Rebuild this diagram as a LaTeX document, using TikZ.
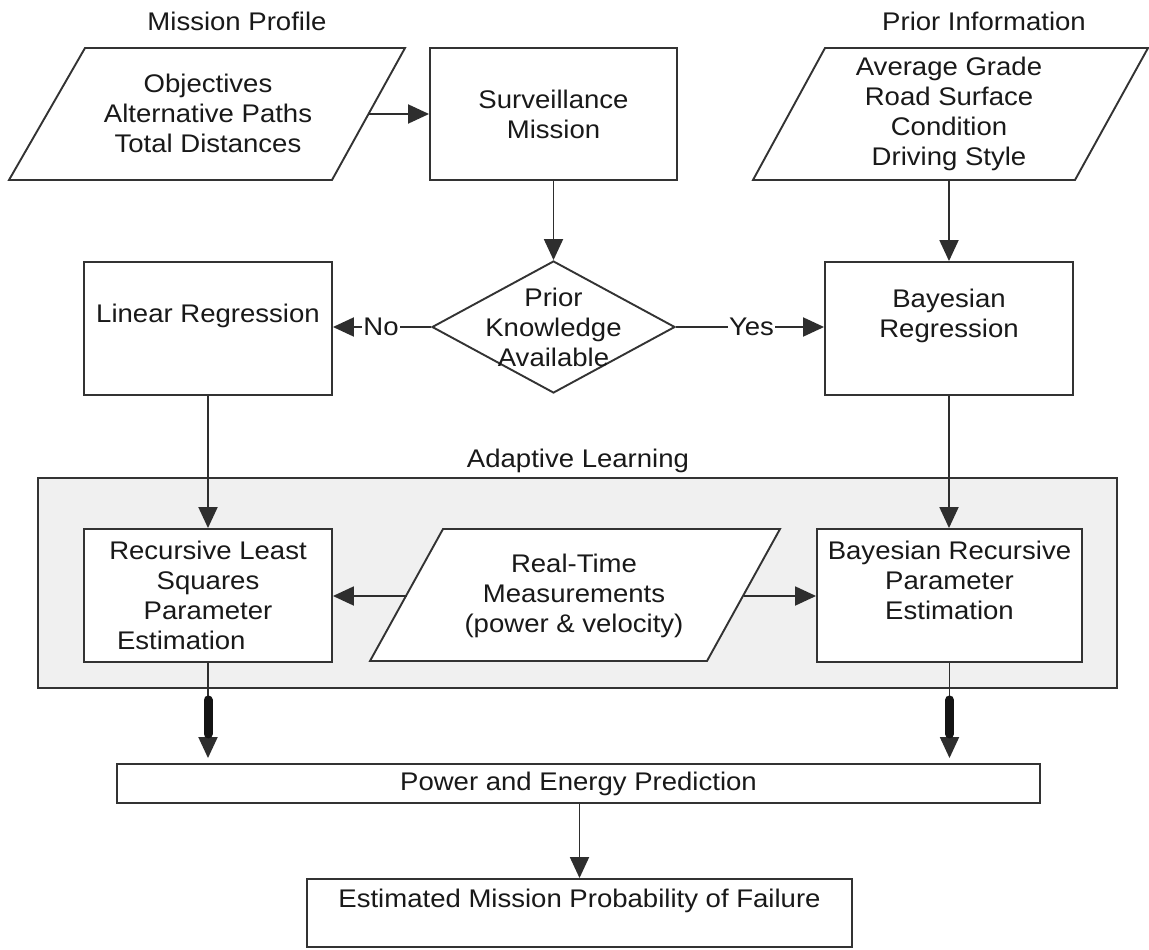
\documentclass[tikz,border=0pt]{standalone}
\usepackage{fontspec}
\setmainfont{Liberation Sans}[FakeStretch=1.08]
\usetikzlibrary{arrows.meta,shapes.geometric,calc}

\begin{document}
\begin{tikzpicture}[x=1pt,y=-1pt,
  every node/.style={font=\fontsize{25.5}{30}\selectfont, text=black!90},
  box/.style={rectangle, draw=black!80, line width=1.9pt, fill=white, inner sep=0pt, align=center},
  txt/.style={inner sep=0pt, align=center},
  para/.style={draw=black!80, line width=1.9pt, fill=white, line join=miter},
  conn/.style={draw=black!82, line width=1.9pt, -{Triangle[length=21pt,width=19pt]}},
  thickseg/.style={draw=black!92, line width=9pt, line cap=round},
  tag/.style={fill=white, inner sep=1.5pt}
]
% canvas
\fill[white] (0,0) rectangle (1149,950);
\useasboundingbox (0,0) rectangle (1149,950);

% ---------- top row ----------
\node[txt] (mplabel) at (237,21) {Mission Profile};
\node[txt] (pilabel) at (984,21) {Prior Information};

% mission profile input
\draw[para] (85,48) -- (405,48) -- (332,180) -- (9,180) -- cycle;
\node[txt] (obj) at (208,113) {Objectives\\Alternative Paths\\Total Distances};
\coordinate (obj-e) at (368.5,114);

\node[box, minimum width=247pt, minimum height=132pt] (surv) at (553.5,114)
  {Surveillance\\Mission};

% prior information input
\draw[para] (825,48) -- (1148,48) -- (1075,180) -- (753,180) -- cycle;
\node[txt] (prior) at (949,114) {Average Grade\\Road Surface\\Condition\\Driving Style};
\coordinate (pri-s) at (949,180);

% ---------- decision row ----------
\node[box, minimum width=248pt, minimum height=133pt] (linreg) at (208,328.5)
  {Linear Regression\\~};
\node[diamond, draw=black!80, line width=1.9pt, fill=white, inner sep=0pt,
      minimum width=243pt, minimum height=132pt] (dec) at (553.5,327) {};
\node[txt] (dectext) at (553.5,327) {Prior\\Knowledge\\Available};
\node[box, minimum width=248pt, minimum height=133pt] (bayreg) at (949,328.5)
  {Bayesian\\Regression\\~};

% ---------- adaptive learning block ----------
\node[txt] (adlabel) at (578,461) {Adaptive Learning};
\node[rectangle, draw=black!80, line width=1.9pt, fill=black!6, inner sep=0pt,
      minimum width=1079pt, minimum height=210pt] (adapt) at (577.5,583) {};

\node[box, minimum width=248pt, minimum height=133pt] (rls) at (208,595.5)
  {Recursive Least\\Squares\\Parameter\\\makebox[182pt][l]{Estimation}};

\draw[para] (443,529) -- (780,529) -- (707,661) -- (370,661) -- cycle;
\node[txt] (rt) at (574,596) {Real-Time\\Measurements\\(power \& velocity)};
\coordinate (rt-w) at (406.5,596);
\coordinate (rt-e) at (743.5,596);

\node[box, minimum width=265pt, minimum height=133pt] (brpe) at (949.5,595.5)
  {Bayesian Recursive\\Parameter\\Estimation\\~};

% ---------- outputs ----------
\node[box, minimum width=923pt, minimum height=39pt] (power) at (578.5,783.5)
  {Power and Energy Prediction};
\node[box, minimum width=545pt, minimum height=68pt] (est) at (579.5,913)
  {Estimated Mission Probability of Failure\\~};

% ---------- connectors ----------
\draw[conn] (obj-e) -- (obj-e -| surv.west);
\draw[conn] (surv.south) -- (dec.north);
\draw[conn] (dec.west) -- node[tag, pos=0.51] (no) {No} (dec.west -| linreg.east);
\draw[conn] (dec.east) -- node[tag, pos=0.51] (yes) {Yes} (dec.east -| bayreg.west);
\draw[conn] (pri-s) -- (pri-s |- bayreg.north);
\draw[conn] (linreg.south) -- (rls.north);
\draw[conn] (bayreg.south) -- (bayreg.south |- brpe.north);
\draw[conn] (rt-w) -- (rt-w -| rls.east);
\draw[conn] (rt-e) -- (rt-e -| brpe.west);

\draw[conn, shorten >=5pt] (rls.south) -- (rls.south |- power.north);
\draw[thickseg] ($(rls.south)+(0,37)$) -- ($(rls.south)+(0,71)$);
\draw[conn, shorten >=5pt] (brpe.south) -- (brpe.south |- power.north);
\draw[thickseg] ($(brpe.south)+(0,37)$) -- ($(brpe.south)+(0,71)$);

\draw[conn] (power.south -| est.north) -- (est.north);
\end{tikzpicture}
\end{document}
